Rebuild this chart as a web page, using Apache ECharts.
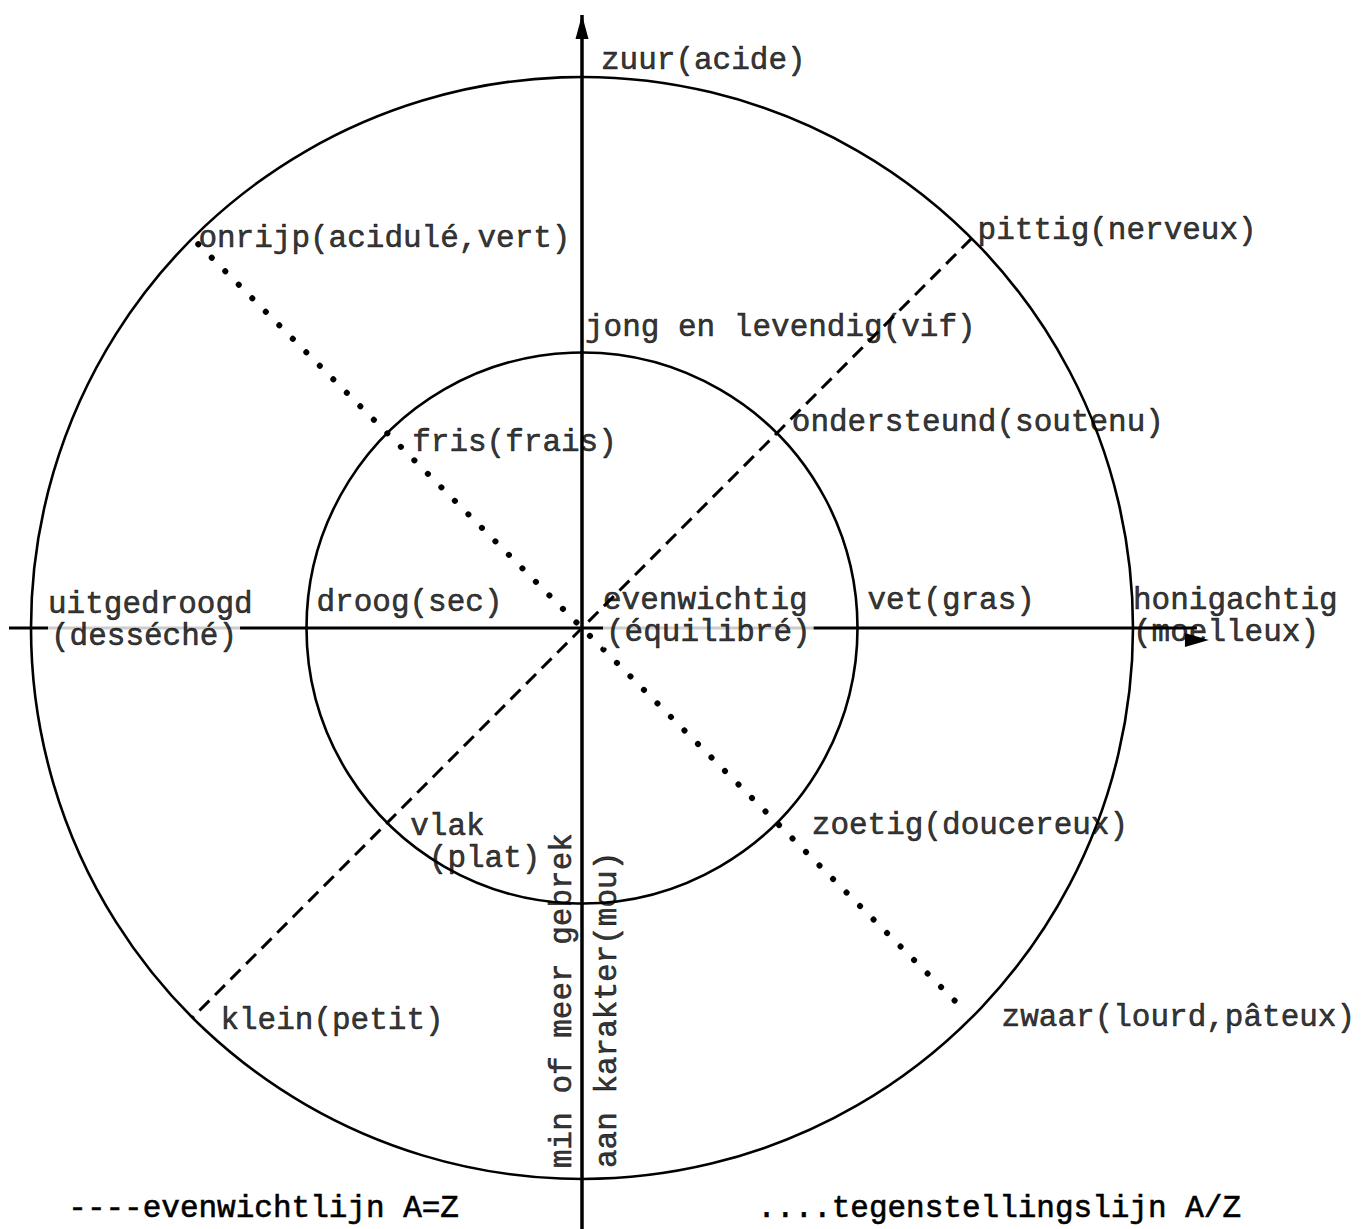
<!DOCTYPE html>
<html><head><meta charset="utf-8">
<style>html,body{margin:0;padding:0;background:#fff}#c{width:1372px;height:1229px}</style>
<script src="https://cdn.jsdelivr.net/npm/echarts@6/dist/echarts.min.js"></script>
</head><body><div id="c"></div>
<script>
// ---- data ----
const directions = [0, 45, 90, 135, 180, 225, 270, 315];
const ringRadii = [1, 2];
const outerTerms = ['honigachtig\n(moelleux)', 'pittig(nerveux)', 'zuur(acide)', 'onrijp(acidulé,vert)',
  'uitgedroogd\n(desséché)', 'klein(petit)', 'min of meer gebrek\naan karakter(mou)', 'zwaar(lourd,pâteux)'];
const innerTerms = ['vet(gras)', 'ondersteund(soutenu)', 'jong en levendig(vif)', 'fris(frais)',
  'droog(sec)', 'vlak\n (plat)', '', 'zoetig(doucereux)'];
const centerTerm = 'evenwichtig\n(équilibré)';
const balanceLine = [[2.0, 45], [2.0, 225]];        // ---- evenwichtlijn A=Z
const oppositionLine = [[1.97, 135], [1.97, 315]];  // .... tegenstellingslijn A/Z
const horizontalAxis = [[2.08, 180], [2.232, 0]];
const verticalAxis = [[2.29, 270], [2.225, 90]];
const legendLabels = ['----evenwichtlijn A=Z', '....tegenstellingslijn A/Z'];

// ---- styles ----
const FONT = '"Liberation Mono", "Courier New", monospace';
const FS = 31;
const UNIT = 275.5;       // px per ring unit
const R_MAX = 2.3;        // radius axis extent (room for the axis arrows)
const labelStyles = {
  'honigachtig\n(moelleux)': { pos: [0, -12] },
  'pittig(nerveux)': { pos: [6, -8] },
  'zuur(acide)': { pos: [19, -17] },
  'onrijp(acidulé,vert)': { pos: [6, 0] },
  'uitgedroogd\n(desséché)': { pos: [17, -8], whiteSecond: true },
  'klein(petit)': { pos: [28, 3] },
  'min of meer gebrek\naan karakter(mou)': { pos: [3, -11], rotate: 90, lineHeight: 45 },
  'zwaar(lourd,pâteux)': { pos: [30, 0] },
  'vet(gras)': { pos: [10, -28] },
  'ondersteund(soutenu)': { pos: [15, -11] },
  'jong en levendig(vif)': { pos: [3, -25] },
  'fris(frais)': { pos: [25, 9] },
  'droog(sec)': { pos: [10, -26] },
  'vlak\n (plat)': { pos: [23, 20] },
  'zoetig(doucereux)': { pos: [35, 3] },
  'evenwichtig\n(équilibré)': { pos: [21, -12], whiteSecond: true }
};

const termData = [];
directions.forEach((d, i) => {
  termData.push({ name: outerTerms[i], value: [ringRadii[1], d] });
  if (innerTerms[i]) termData.push({ name: innerTerms[i], value: [ringRadii[0], d] });
});
termData.push({ name: centerTerm, value: [0, 0] });

const textBase = { fontFamily: FONT, fontSize: FS, color: '#000', textBorderColor: '#000', textBorderWidth: 0.6, lineHeight: 32 };
termData.forEach(item => {
  const st = labelStyles[item.name] || { pos: [0, 0] };
  const lbl = Object.assign({}, textBase, {
    show: true, position: [st.pos[0] + 0.5, st.pos[1] + 0.5], align: 'left', verticalAlign: 'middle',
    rotate: st.rotate || 0, lineHeight: st.lineHeight || 32
  });
  if (st.whiteSecond) {
    const parts = item.name.split('\n');
    lbl.formatter = '{a|' + parts[0] + '}\n{w|' + parts[1] + '}';
    lbl.rich = { a: Object.assign({}, textBase), w: Object.assign({}, textBase, { backgroundColor: '#fff', padding: [0, 3, 0, 3] }) };
  } else {
    lbl.formatter = '{b}';
  }
  item.label = lbl;
});

const chart = echarts.init(document.getElementById('c'), null, { renderer: 'svg' });
chart.setOption({
  animation: false,
  backgroundColor: '#fff',
  polar: { center: [582, 628], radius: UNIT * R_MAX },
  radiusAxis: {
    type: 'value', min: 0, max: R_MAX, interval: 1,
    axisLine: { show: false }, axisTick: { show: false }, axisLabel: { show: false },
    splitLine: { show: true, lineStyle: { color: ['#000', '#000', '#000', 'rgba(0,0,0,0)'], width: 2.6 } }
  },
  angleAxis: {
    type: 'value', min: 0, max: 360, startAngle: 0, clockwise: false,
    axisLine: { show: false }, axisTick: { show: false }, axisLabel: { show: false },
    splitLine: { show: false }
  },
  graphic: [
    { type: 'text', left: 68, top: 1193, style: { text: legendLabels[0], font: FS + 'px ' + FONT, fill: '#000', stroke: '#000', lineWidth: 0.6 } },
    { type: 'text', left: 757, top: 1193, style: { text: legendLabels[1], font: FS + 'px ' + FONT, fill: '#000', stroke: '#000', lineWidth: 0.6 } }
  ],
  series: [
    {
      type: 'line', coordinateSystem: 'polar', clip: false, silent: true, z: 3,
      showSymbol: true,
      lineStyle: { color: '#000', width: 3 }, itemStyle: { color: '#000' },
      data: [
        { value: horizontalAxis[0], symbol: 'none' },
        { value: horizontalAxis[1], symbol: 'triangle', symbolSize: [14, 24], symbolRotate: -90, symbolOffset: [0, '50%'] }
      ]
    },
    {
      type: 'line', coordinateSystem: 'polar', clip: false, silent: true, z: 3,
      showSymbol: true,
      lineStyle: { color: '#000', width: 3.5 }, itemStyle: { color: '#000' },
      data: [
        { value: verticalAxis[0], symbol: 'none' },
        { value: verticalAxis[1], symbol: 'triangle', symbolSize: [13, 24], symbolRotate: 0, symbolOffset: [0, '50%'] }
      ]
    },
    {
      type: 'line', coordinateSystem: 'polar', clip: false, silent: true, showSymbol: false, z: 3,
      lineStyle: { color: '#000', width: 3, type: [14, 8] },
      data: balanceLine
    },
    {
      type: 'line', coordinateSystem: 'polar', clip: false, silent: true, showSymbol: false, z: 3,
      lineStyle: { color: '#000', width: 6, type: [0.1, 19], cap: 'round' },
      data: oppositionLine
    },
    {
      type: 'scatter', coordinateSystem: 'polar', silent: true, z: 5,
      symbolSize: 1, itemStyle: { color: 'rgba(0,0,0,0)' },
      labelLayout: { hideOverlap: false },
      data: termData
    }
  ]
});
</script></body></html>
